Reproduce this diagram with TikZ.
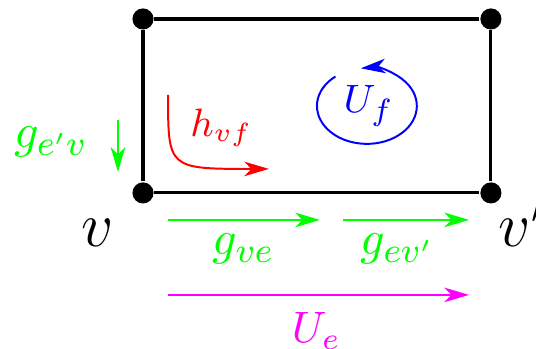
\documentclass[tikz,border=0pt]{standalone}
\usepackage{amsmath}
\usepackage{xcolor}
\usepackage{tikz}
\usetikzlibrary{arrows.meta,positioning}
\definecolor{vgreen}{HTML}{00FF00}
\definecolor{vmagenta}{HTML}{FF00FF}

\begin{document}
\begin{tikzpicture}[x=1.39cm,y=1.39cm,
  vertex/.style={circle,fill=black,inner sep=0pt,minimum size=4.8pt},
  edge/.style={line width=0.7pt},
  flow/.style={line width=0.45pt,-{Stealth[length=5.6pt,width=3.3pt,inset=1.6pt]}},
  lbl/.style={inner sep=0pt,anchor=base}]
\useasboundingbox (-0.822,-0.897) rectangle (2.259,1.109);
% the face
\node[vertex] (v) at (0,0) {};
\node[vertex] (vp) at (2,0) {};
\node[vertex] (tr) at (2,1) {};
\node[vertex] (tl) at (0,1) {};
\draw[edge] (v) -- (vp) -- (tr) -- (tl) -- (v);
\node[lbl,font=\Large] (vlab) at (-0.261,-0.31) {$v$};
\node[lbl,font=\Large,anchor=base west] (vplab) at (2.04,-0.31) {$v'$};
% end points of the flows
\coordinate (gin1) at (-0.144,0.42);
\coordinate (gin2) at (-0.144,0.121);
\coordinate (h1) at (0.144,0.563);
\coordinate (hc) at (0.144,0.138);
\coordinate (h2) at (0.724,0.138);
\coordinate (ga1) at (0.144,-0.155);
\coordinate (ga2) at (1.017,-0.155);
\coordinate (gb1) at (1.149,-0.155);
\coordinate (gb2) at (1.874,-0.155);
\coordinate (ue1) at (0.144,-0.586);
\coordinate (ue2) at (1.874,-0.586);
\coordinate (uf) at (1.287,0.5);
% flows
\draw[flow,vgreen] (gin1) -- (gin2);
\node[lbl,vgreen,font=\fontsize{10.8}{13}\selectfont] (gin) at (-0.529,0.259) {$g_{e'v}$};
\draw[flow,red] (h1) .. controls (hc) .. (h2);
\node[lbl,red,font=\fontsize{9}{11}\selectfont] (h) at (0.451,0.322) {$h_{vf}$};
\draw[flow,vgreen] (ga1) -- (ga2);
\node[lbl,vgreen,font=\fontsize{10.8}{13}\selectfont] (ga) at (0.578,-0.356) {$g_{ve}$};
\draw[flow,vgreen] (gb1) -- (gb2);
\node[lbl,vgreen,font=\fontsize{10.8}{13}\selectfont] (gb) at (1.463,-0.356) {$g_{ev'}$};
\draw[flow,vmagenta] (ue1) -- (ue2);
\node[lbl,vmagenta] (ue) at (0.997,-0.862) {$U_e$};
\draw[flow,blue] (uf) ++(129:0.287 and 0.218) arc[start angle=129,end angle=457,x radius=0.287,y radius=0.218];
\node[lbl,blue,font=\fontsize{9.5}{11}\selectfont] (ufl) at (1.299,0.46) {$U_f$};
\end{tikzpicture}
\end{document}
